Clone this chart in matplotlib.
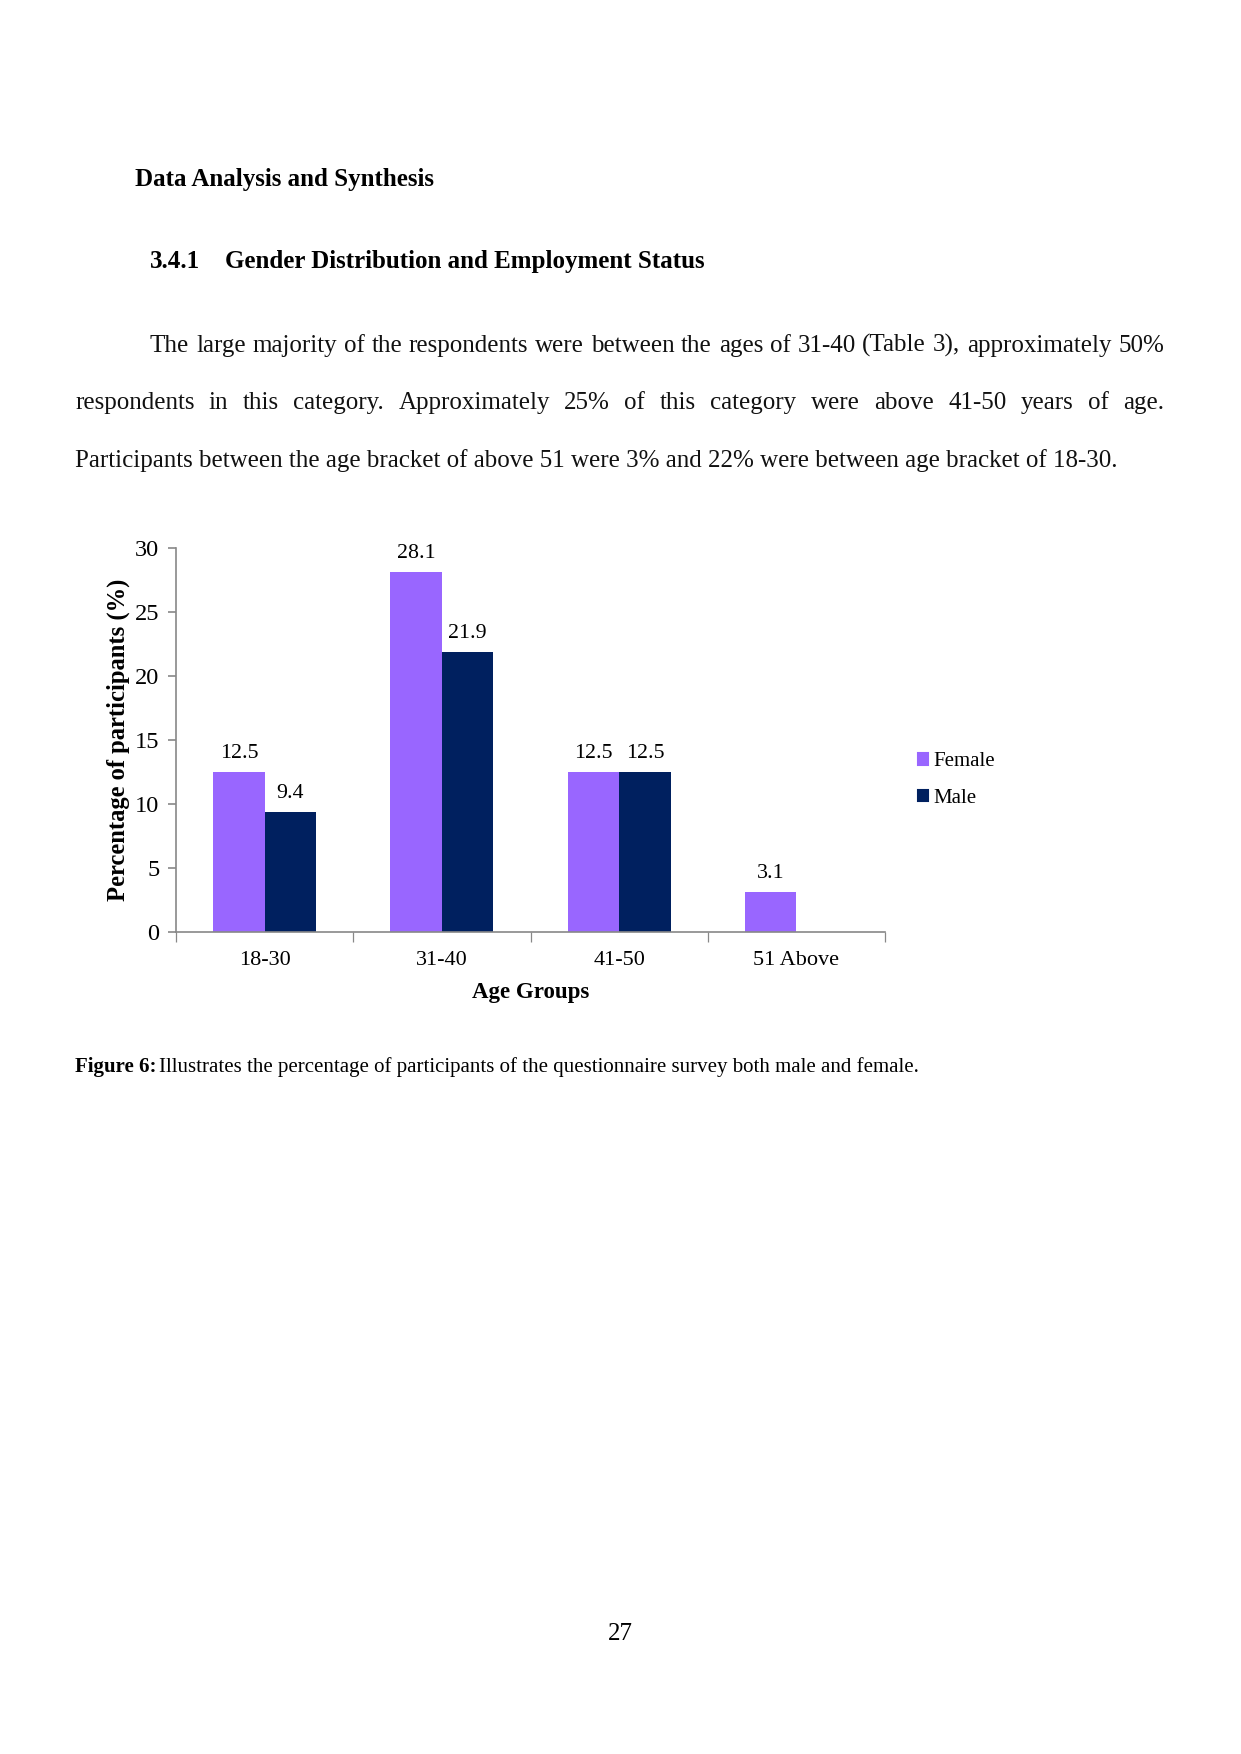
import matplotlib
matplotlib.use("Agg")
import matplotlib.pyplot as plt
from matplotlib.patches import Patch

plt.rcParams["font.family"] = ["Liberation Serif", "DejaVu Serif"]

# data
groups = ["18-30", "31-40", "41-50", "51 Above"]
female = [12.5, 28.1, 12.5, 3.1]
male = [9.4, 21.9, 12.5, None]
yticks = [0, 5, 10, 15, 20, 25, 30]

FEMALE_C = "#9966FF"
MALE_C = "#00205F"
W, H = 1241, 1754

fig = plt.figure(figsize=(W / 150, H / 150), dpi=150)
r = fig.canvas.get_renderer()


def fx(px):
    return px / W


def fy(py):
    return 1 - py / H


def justified(words, x0, x1, y, **kw):
    # spread words so that the line fills x0..x1 (pixels)
    texts = [fig.text(0, fy(y), w, va="baseline", **kw) for w in words]
    widths = [t.get_window_extent(r).width for t in texts]
    gap = (x1 - x0 - sum(widths)) / (len(words) - 1)
    x = x0
    for t, w in zip(texts, widths):
        t.set_x(fx(x))
        x += w + gap


body = dict(fontsize=12, color="#111111")
head = dict(fontsize=12, fontweight="bold", va="baseline")
fig.text(fx(135), fy(186), "Data Analysis and Synthesis", **head)
fig.text(fx(150), fy(268), "3.4.1", **head)
fig.text(fx(225), fy(268), "Gender Distribution and Employment Status", **head)

line1 = ("The large majority of the respondents were between the ages of "
         "31-40 (Table 3), approximately 50%").split()
line2 = ("respondents in this category. Approximately 25% of this category "
         "were above 41-50 years of age.").split()
justified(line1, 150, 1164, 352, **body)
justified(line2, 75, 1164, 409, **body)
fig.text(fx(75), fy(467), "Participants between the age bracket of above 51 were "
         "3% and 22% were between age bracket of 18-30.", va="baseline", **body)

# chart
ax = fig.add_axes([fx(176), fy(932), fx(885) - fx(176), fy(548) - fy(932)])
x = list(range(len(groups)))
bw = 0.29
fb = ax.bar([i - bw / 2 for i in x], female, bw, color=FEMALE_C, label="Female")
mx = [i + bw / 2 for i, v in zip(x, male) if v is not None]
mv = [v for v in male if v is not None]
mb = ax.bar(mx, mv, bw, color=MALE_C, label="Male")

for bars in (fb, mb):
    for b in bars:
        ax.annotate(f"{b.get_height():.1f}", (b.get_x() + b.get_width() / 2, b.get_height()),
                    xytext=(0, 8.8), textcoords="offset points",
                    ha="center", va="center", fontsize=10.5)

ax.set_xlim(-0.5, len(groups) - 0.5)
ax.set_ylim(0, 30)
ax.set_yticks(yticks)
ax.set_xticks(x)
ax.set_xticklabels(groups, fontsize=10.7)
ax.set_xticks([i - 0.5 for i in range(len(groups) + 1)], minor=True)
ax.tick_params(axis="x", which="major", length=0, pad=9)
ax.tick_params(axis="x", which="minor", length=5, color="#888888", direction="out")
ax.tick_params(axis="y", length=4, color="#888888", labelsize=11.7, pad=4)
for s in ("top", "right"):
    ax.spines[s].set_visible(False)
for s in ("left", "bottom"):
    ax.spines[s].set_color("#888888")
    ax.spines[s].set_linewidth(0.8)

ax.set_xlabel("Age Groups", fontsize=11, fontweight="bold", labelpad=6)
ax.set_ylabel("Percentage of participants (%)", fontsize=11.8,
              fontweight="bold", labelpad=2.5)

ax.legend(handles=[Patch(color=FEMALE_C, label="Female"),
                   Patch(color=MALE_C, label="Male")],
          loc="center left", bbox_to_anchor=(1.047, 0.395), frameon=False,
          fontsize=10, handlelength=0.45, handleheight=0.45,
          handletextpad=0.25, labelspacing=0.85, borderpad=0, borderaxespad=0)

# caption: bold label followed by regular text
lab = fig.text(fx(75), fy(1072), "Figure 6:", fontsize=10, fontweight="bold",
               va="baseline")
lw = lab.get_window_extent(r).width
fig.text(fx(75 + lw + 3), fy(1072), "Illustrates the percentage of participants "
         "of the questionnaire survey both male and female.", fontsize=10,
         va="baseline")

fig.text(fx(620), fy(1640), "27", fontsize=12, ha="center", va="baseline")

fig.savefig("out.png", dpi=150)
